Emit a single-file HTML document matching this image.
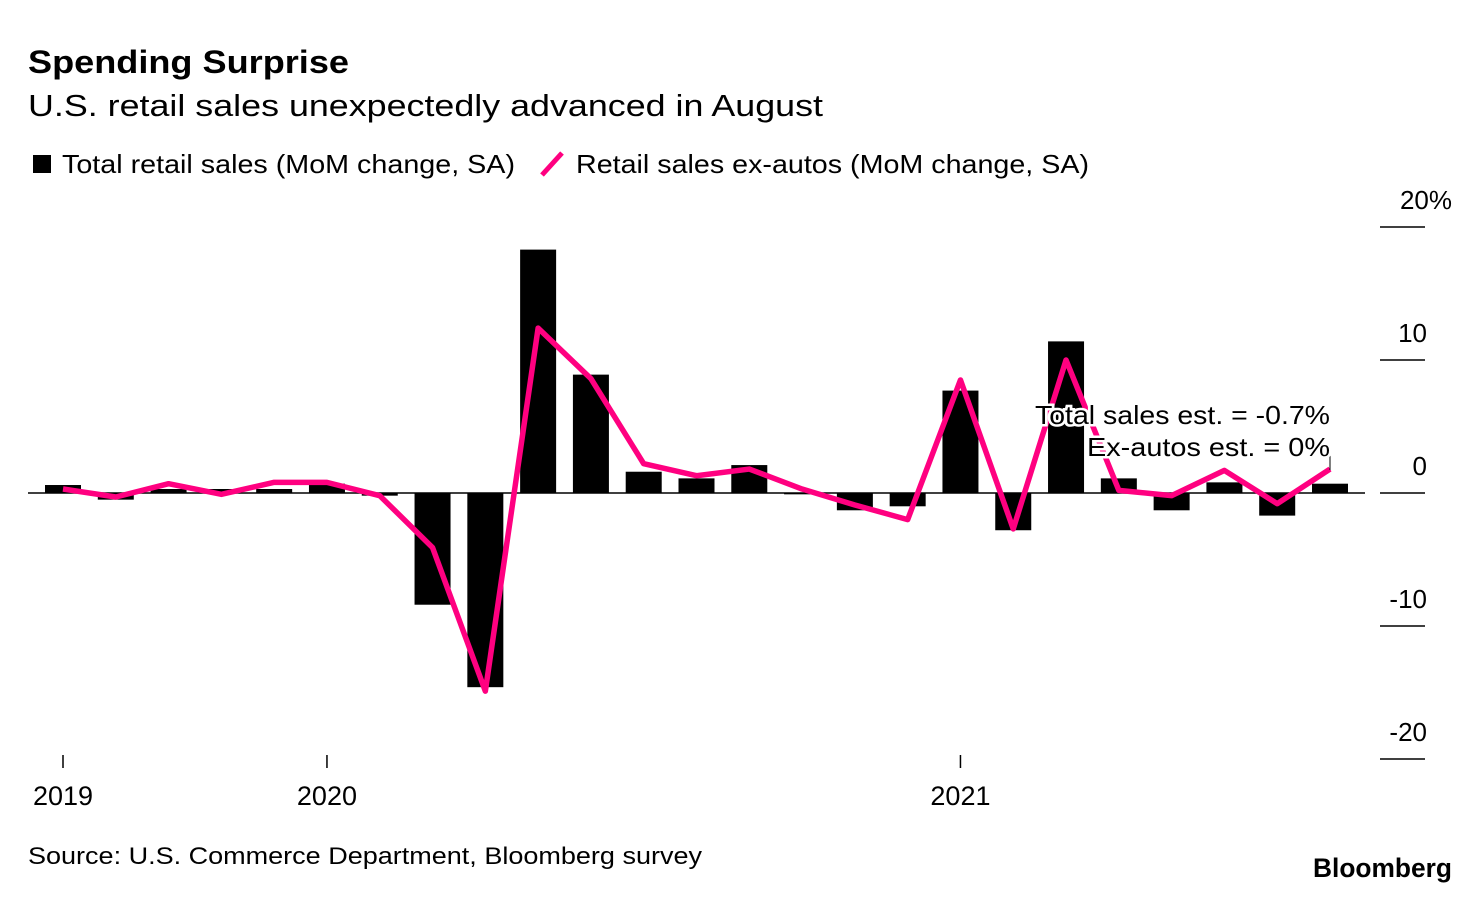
<!DOCTYPE html>
<html><head><meta charset="utf-8"><style>
body{margin:0;width:1480px;height:894px;background:#fff;font-family:"Liberation Sans",sans-serif;overflow:hidden}
svg text{font-family:"Liberation Sans",sans-serif}
</style></head><body>
<svg width="1480" height="894">
<text x="28" y="73" font-size="32" font-weight="bold" textLength="321" lengthAdjust="spacingAndGlyphs">Spending Surprise</text>
<text x="28" y="116" font-size="31" textLength="795" lengthAdjust="spacingAndGlyphs">U.S. retail sales unexpectedly advanced in August</text>
<g>
<rect x="33" y="155" width="18" height="18" fill="#000"/>
<text x="62" y="173" font-size="26" textLength="453" lengthAdjust="spacingAndGlyphs">Total retail sales (MoM change, SA)</text>
<line x1="542" y1="175" x2="562" y2="153" stroke="#ff0080" stroke-width="5"/>
<text x="576" y="173" font-size="26" textLength="513" lengthAdjust="spacingAndGlyphs">Retail sales ex-autos (MoM change, SA)</text>
</g>
<g id="yaxis"></g>
<g id="xaxis"></g>
<g id="bars"></g>
<line x1="28" y1="493" x2="1365" y2="493" stroke="#000" stroke-width="1.5"/>
<path id="line" fill="none" stroke="#ff0080" stroke-width="5.5" stroke-linejoin="round"/>
<line x1="1330" y1="455" x2="1330" y2="470" stroke="#000" stroke-width="1"/>
<g font-size="26" text-anchor="end" stroke="#fff" stroke-width="5" paint-order="stroke">
<text x="1330" y="424" textLength="295" lengthAdjust="spacingAndGlyphs">Total sales est. = -0.7%</text>
<text x="1330" y="456" textLength="243" lengthAdjust="spacingAndGlyphs">Ex-autos est. = 0%</text>
</g>
<text x="28" y="864" font-size="24" textLength="674" lengthAdjust="spacingAndGlyphs">Source: U.S. Commerce Department, Bloomberg survey</text>
<text x="1313" y="877" font-size="27" font-weight="bold" textLength="139" lengthAdjust="spacingAndGlyphs">Bloomberg</text>
</svg>
<script>
const totalSales=[0.6,-0.5,0.3,0.3,0.3,0.7,-0.2,-8.4,-14.6,18.3,8.9,1.6,1.1,2.1,-0.1,-1.3,-1.0,7.7,-2.8,11.4,1.1,-1.3,0.8,-1.7,0.7];
const exAutos=[0.3,-0.3,0.7,-0.1,0.8,0.8,-0.2,-4.1,-14.9,12.4,8.6,2.2,1.3,1.8,0.3,-0.9,-2.0,8.5,-2.7,10.0,0.2,-0.2,1.7,-0.8,1.8];
const yTicks=[20,10,0,-10,-20];
const yTickLabels=["20%","10","0","-10","-20"];
const xTickIndex=[0,5,17];
const xTickLabels=["2019","2020","2021"];
const NS="http://www.w3.org/2000/svg";
const x=i=>63+i*(1330-63)/24;
const y=v=>493-v*13.3;
function mk(tag,attrs,parent){const e=document.createElementNS(NS,tag);for(const k in attrs)e.setAttribute(k,attrs[k]);parent.appendChild(e);return e;}
const bars=document.getElementById('bars');
totalSales.forEach((v,i)=>{
 const r=mk('rect',{x:x(i)-18,y:Math.min(y(v),y(0)),width:36,height:Math.abs(y(v)-y(0)),fill:'#000'},bars);
 
 
});
document.getElementById('line').setAttribute('d',exAutos.map((v,i)=>(i?'L':'M')+x(i)+','+y(v)).join(''));
const ya=document.getElementById('yaxis');
yTicks.forEach((t,i)=>{
 const l=mk('line',{x1:1380,x2:1425,y1:y(t),y2:y(t),stroke:'#000','stroke-width':1.5},ya);
 
 
 const tx=mk('text',{x:i==0?1452:1427,y:y(t)-18,'font-size':26,'text-anchor':'end'},ya);
 tx.textContent=yTickLabels[i];
 
 
});
const xa=document.getElementById('xaxis');
xTickIndex.forEach((idx,i)=>{
 const l=mk('line',{x1:x(idx),x2:x(idx),y1:755,y2:768,stroke:'#000','stroke-width':1.5},xa);
 
 
 const tx=mk('text',{x:x(idx),y:805,'font-size':27,'text-anchor':'middle'},xa);
 tx.textContent=xTickLabels[i];
 
 
});
</script>
</body></html>
